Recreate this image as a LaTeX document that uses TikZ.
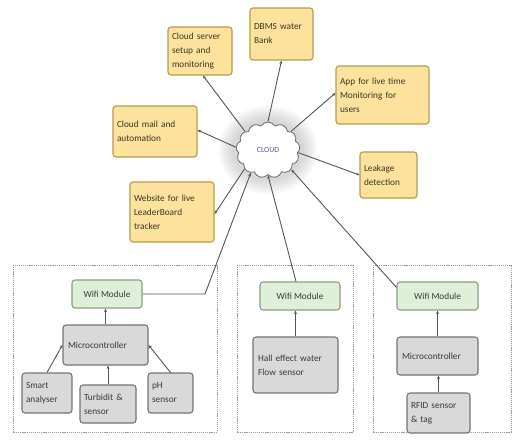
\documentclass[tikz,border=0pt]{standalone}
\usepackage{fontspec}
\setmainfont{Carlito}
\usetikzlibrary{shapes.symbols,arrows.meta}
\definecolor{yfill}{HTML}{FCE29C}
\definecolor{ydraw}{HTML}{B89A4A}
\definecolor{ytext}{HTML}{3E3524}
\definecolor{gfill}{HTML}{DDEFD6}
\definecolor{gdraw}{HTML}{8C9C88}
\definecolor{kfill}{HTML}{D9D9D9}
\definecolor{kdraw}{HTML}{757575}
\definecolor{ktext}{HTML}{3A3A3A}
\definecolor{ctext}{HTML}{5A5AAE}
\definecolor{lcol}{HTML}{555555}
\begin{document}
\begin{tikzpicture}[x=1pt,y=-1pt,
  font=\fontsize{9.3}{14}\selectfont,
  box/.style={rounded corners=3pt, line width=1.1pt, inner sep=4pt, align=left},
  ybox/.style={box, fill=yfill, draw=ydraw, text=ytext},
  gbox/.style={box, fill=gfill, draw=gdraw, text=ktext, align=center},
  kbox/.style={box, fill=kfill, draw=kdraw, text=ktext},
  frame/.style={draw=gray!75, dash pattern=on 1.2pt off 0.9pt, line width=0.9pt},
  arr/.style={-{Stealth[length=3.5pt,width=3pt]}, draw=lcol, line width=0.9pt}]
\useasboundingbox (0,0) rectangle (513,440);

% frames
\draw[frame] (13,265) rectangle (217,432);
\draw[frame] (237,265) rectangle (353,432);
\draw[frame] (373,265) rectangle (511,432);

% cloud glow
\foreach \r in {1,...,7}{
  \fill[gray, opacity=0.05] (268,150) ellipse ({34+2.2*\r} and {29+2.2*\r});
}
\node[cloud, cloud puffs=13, cloud puff arc=120, aspect=1.15, draw=gray!90!black, fill=white,
  line width=0.9pt, minimum width=64pt, minimum height=56pt, inner sep=0pt,
  text=ctext, font=\fontsize{7.8}{9}\selectfont] (cloud) at (268,150) {CLOUD};

% yellow boxes
\node[ybox, text width=56pt, minimum height=48pt] (cs) at (200,51) {Cloud server\\setup and\\monitoring};
\node[ybox, text width=55pt, minimum height=52pt] (db) at (281.5,34) {DBMS water\\Bank\\[8pt]};
\node[ybox, text width=85pt, minimum height=58pt] (app) at (382.5,95) {App for live time\\Monitoring for\\users};
\node[ybox, text width=76pt, minimum height=51pt] (cm) at (155,131.5) {Cloud mail and\\automation};
\node[ybox, text width=49pt, minimum height=46pt] (lk) at (388.5,175) {Leakage\\detection};
\node[ybox, text width=76pt, minimum height=60pt] (web) at (172,212) {Website for live\\LeaderBoard\\tracker};

% green boxes
\node[gbox, minimum width=70pt, minimum height=28pt] (w1) at (107,294) {Wifi Module};
\node[gbox, minimum width=80pt, minimum height=28pt] (w2) at (300,296) {Wifi Module};
\node[gbox, minimum width=81pt, minimum height=28pt] (w3) at (437.5,296) {Wifi Module};

% gray boxes
\node[kbox, text width=75pt, minimum height=40pt, inner sep=5pt] (mc1) at (105.5,345) {Microcontroller};
\node[kbox, text width=42pt, minimum height=40pt] (sa) at (47,393) {Smart\\analyser};
\node[kbox, text width=48pt, minimum height=38pt] (tb) at (108,404) {Turbidit \&\\sensor};
\node[kbox, text width=37pt, minimum height=40pt] (ph) at (170.5,393) {pH\\sensor};
\node[kbox, text width=75pt, minimum height=56pt, inner sep=5pt] (he) at (295.5,365) {Hall effect water\\Flow sensor};
\node[kbox, text width=71pt, minimum height=38pt, inner sep=5pt] (mc3) at (437.5,356) {Microcontroller};
\node[kbox, text width=55pt, minimum height=40pt] (rf) at (438.5,413) {RFID sensor\\\& tag};

% cloud -> services
\draw[arr] (cloud.141) -- ([xshift=3pt]cs.south);
\draw[arr] (cloud.90) -- (db.south);
\draw[arr] (cloud.39) -- ([yshift=2pt]app.west);
\draw[arr] (cloud.175) -- ([yshift=1.5pt]cm.east);
\draw[arr] (cloud.355) -- (lk.west);
\draw[arr] (cloud.219) -- ([yshift=-2pt]web.east);

% modules -> cloud
\coordinate (bend1) at (205,294);
\draw[arr] (w1.east) -- (bend1) -- (cloud.233);
\draw[arr] ([xshift=-4pt]w2.north) -- (cloud.270);
\draw[arr] ([yshift=-6pt]w3.north west) -- (cloud.320);

% inner connections
\draw[arr] (mc1.north) -- (mc1.north |- w1.south);
\draw[arr] (sa.north) -- (mc1.west);
\draw[arr] (tb.north) -- (tb.north |- mc1.south);
\draw[arr] (ph.north) -- (mc1.east);
\draw[arr] (he.north) -- (he.north |- w2.south);
\draw[arr] (mc3.north) -- (w3.south);
\draw[arr] (rf.north) -- (rf.north |- mc3.south);
\end{tikzpicture}
\end{document}
